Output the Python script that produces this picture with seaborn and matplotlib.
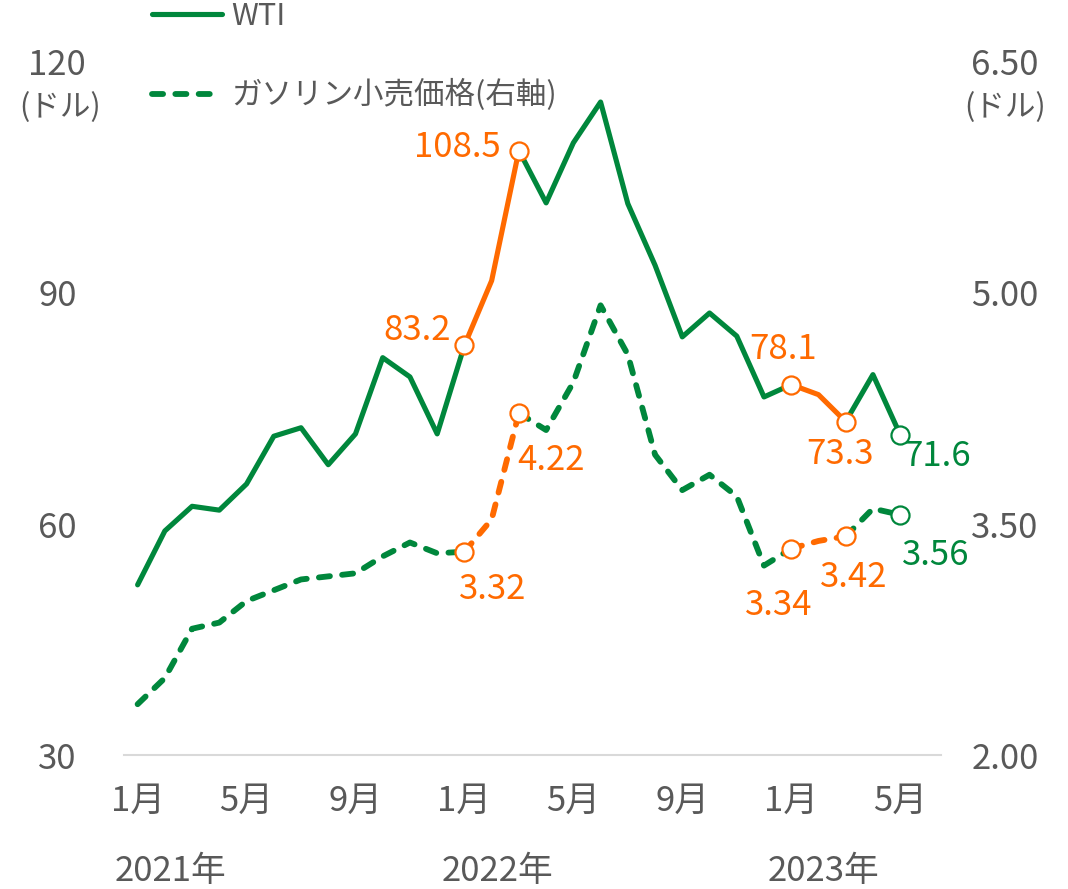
import matplotlib
matplotlib.use('Agg')
import matplotlib.pyplot as plt
import matplotlib.transforms as mtransforms
from matplotlib.lines import Line2D
import seaborn as sns
import pandas as pd

# monthly data, Jan 2021 .. May 2023
wti = [52.1, 59.1, 62.3, 61.8, 65.2, 71.4, 72.5, 67.7, 71.7, 81.6, 79.1, 71.7,
       83.2, 91.6, 108.5, 101.7, 109.5, 114.8, 101.6, 93.6, 84.3, 87.4, 84.4, 76.5,
       78.1, 76.8, 73.3, 79.4, 71.6]
gasoline = [2.33, 2.50, 2.82, 2.86, 3.00, 3.07, 3.14, 3.16, 3.18, 3.29, 3.38, 3.31,
            3.32, 3.53, 4.22, 4.11, 4.42, 4.92, 4.60, 3.95, 3.72, 3.82, 3.68, 3.23,
            3.34, 3.39, 3.42, 3.60, 3.56]
month_ticks = [0, 4, 8, 12, 16, 20, 24, 28]
month_labels = ['1月', '5月', '9月', '1月', '5月', '9月', '1月', '5月']
year_pos = [0, 12, 24]
year_labels = ['2021年', '2022年', '2023年']
green_ranges = [(0, 12), (14, 24), (26, 28)]
orange_ranges = [(12, 14), (24, 26)]
marked = [12, 14, 24, 26]                 # orange hollow markers
last = 28

df = pd.DataFrame({'i': range(len(wti)), 'wti': wti, 'gas': gasoline})


def segments(ranges):
    parts = []
    for k, (a, b) in enumerate(ranges):
        part = df[(df.i >= a) & (df.i <= b)].copy()
        part['seg'] = k
        parts.append(part)
    return pd.concat(parts, ignore_index=True)


green_df = segments(green_ranges)
orange_df = segments(orange_ranges)

GREEN = '#00873C'
ORANGE = '#FF6A00'
GREY = '#595959'

sns.set_style('white')
plt.rcParams['font.family'] = ['Noto Sans CJK JP', 'DejaVu Sans']
FS = 25
FS_JP = 22

fig = plt.figure(figsize=(10.68, 8.89), dpi=100)
ax = fig.add_axes([0.1161, 0.1507, 0.765, 0.7796])
ax2 = ax.twinx()

lw = 3.7
dlw = 4.2
dash = (0, (1.9, 2.1))
solid_kw = dict(lw=lw, solid_joinstyle='round', solid_capstyle='round')
dash_kw = dict(lw=dlw, linestyle=dash, dash_capstyle='round', dash_joinstyle='round')

for d, color in ((green_df, GREEN), (orange_df, ORANGE)):
    sns.lineplot(data=d, x='i', y='wti', units='seg', estimator=None, ax=ax,
                 color=color, **solid_kw)
    sns.lineplot(data=d, x='i', y='gas', units='seg', estimator=None, ax=ax2,
                 color=color, **dash_kw)

mk = dict(marker='o', ms=13, mfc='white', mew=1.6, linestyle='none', zorder=5)
sub = df[df.i.isin(marked)]
ax.plot(sub.i, sub.wti, mec=ORANGE, **mk)
ax2.plot(sub.i, sub.gas, mec=ORANGE, **mk)
ax.plot([last], [wti[last]], mec=GREEN, **mk)
ax2.plot([last], [gasoline[last]], mec=GREEN, **mk)


def lab(a, i, vals, fmt, off, ha, color):
    a.annotate(fmt.format(vals[i]), (i, vals[i]), xytext=off, textcoords='offset points',
               ha=ha, va='center', fontsize=FS, color=color)


lab(ax, 12, wti, '{:.1f}', (-10, 11), 'right', ORANGE)
lab(ax, 14, wti, '{:.1f}', (-13, 2), 'right', ORANGE)
lab(ax, 24, wti, '{:.1f}', (-6, 25), 'center', ORANGE)
lab(ax, 26, wti, '{:.1f}', (-4, -24), 'center', ORANGE)
lab(ax, 28, wti, '{:.1f}', (2, -16), 'left', GREEN)
lab(ax2, 12, gasoline, '{:.2f}', (20, -27), 'center', ORANGE)
lab(ax2, 14, gasoline, '{:.2f}', (-1, -34), 'left', ORANGE)
lab(ax2, 24, gasoline, '{:.2f}', (-9, -41), 'center', ORANGE)
lab(ax2, 26, gasoline, '{:.2f}', (6, -30), 'center', ORANGE)
lab(ax2, 28, gasoline, '{:.2f}', (1, -29), 'left', GREEN)

ax.set_xlim(-0.5, 29.5)
ax.set_ylim(30, 120)
ax.set_yticks([30, 60, 90, 120])
ax2.set_ylim(2.0, 6.5)
ax2.set_yticks([2.0, 3.5, 5.0, 6.5])
ax2.set_yticklabels(['2.00', '3.50', '5.00', '6.50'])
ax.set_xticks(month_ticks)
ax.set_xticklabels(month_labels)
for a in (ax, ax2):
    a.set_xlabel('')
    a.set_ylabel('')
    for s in a.spines.values():
        s.set_visible(False)
ax.spines['bottom'].set_visible(True)
ax.spines['bottom'].set_color('#D9D9D9')
ax.spines['bottom'].set_linewidth(1.5)

ax.tick_params(axis='x', length=0, pad=21, labelsize=FS, labelcolor=GREY)
ax.tick_params(axis='y', length=0, pad=48, labelsize=FS, labelcolor=GREY)
ax2.tick_params(axis='y', length=0, pad=46, labelsize=FS, labelcolor=GREY)
for t in ax.get_yticklabels() + ax2.get_yticklabels():
    t.set_ha('center')

trans = mtransforms.blended_transform_factory(ax.transData, ax.transAxes)
for p, t in zip(year_pos, year_labels):
    ax.text(p - 0.85, -0.168, t, transform=trans, ha='left', va='center',
            fontsize=FS, color=GREY)

fig.text(0.056, 0.8785, '(ドル)', ha='center', va='center', fontsize=FS_JP, color=GREY)
fig.text(0.941, 0.8785, '(ドル)', ha='center', va='center', fontsize=FS_JP, color=GREY)

handles = [Line2D([], [], color=GREEN, lw=lw),
           Line2D([], [], color=GREEN, lw=dlw, linestyle=dash, dash_capstyle='round')]
fig.legend(handles, ['WTI', 'ガソリン小売価格(右軸)'], loc='upper left',
           bbox_to_anchor=(0.142, 0.999), frameon=False, fontsize=FS_JP, borderpad=0,
           borderaxespad=0, labelcolor=GREY, handlelength=2.3, handletextpad=0.3,
           labelspacing=1.55)

fig.savefig('out.png', dpi=100)
